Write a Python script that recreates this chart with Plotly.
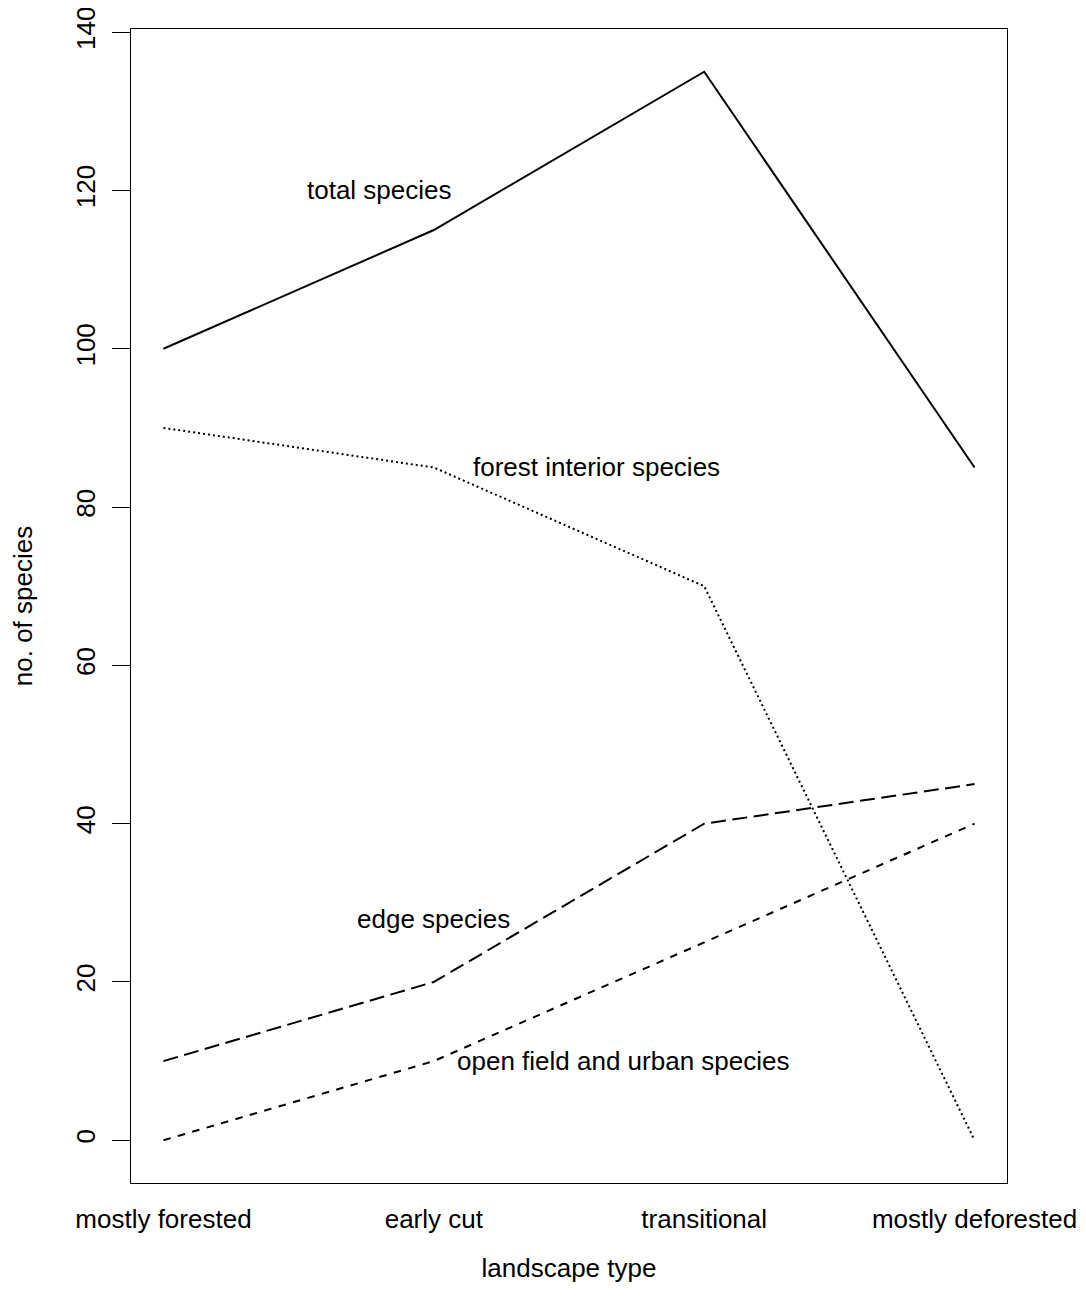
import plotly.graph_objects as go

categories = ["mostly forested", "early cut", "transitional", "mostly deforested"]
total_species = [100, 115, 135, 85]
forest_interior = [90, 85, 70, 0]
edge_species = [10, 20, 40, 45]
open_field_urban = [0, 10, 25, 40]
y_ticks = [0, 20, 40, 60, 80, 100, 120, 140]

label_text = ["total species", "forest interior species", "edge species",
              "open field and urban species"]
label_x = [0.80, 1.60, 1.00, 1.70]
label_y = [120, 85, 28, 10]

xpos = list(range(len(categories)))
FONT = "Liberation Sans, Arial, sans-serif"

fig = go.Figure()
series = [
    (total_species, "solid"),
    (forest_interior, "2px,3px"),
    (edge_species, "15px,6.5px"),
    (open_field_urban, "7.5px,7.5px"),
]
for vals, dash in series:
    fig.add_trace(go.Scatter(x=xpos, y=vals, mode="lines",
                             line=dict(color="black", width=2, dash=dash),
                             showlegend=False, hoverinfo="skip"))

for t, x, y in zip(label_text, label_x, label_y):
    fig.add_annotation(x=x, y=y, text=t, showarrow=False,
                       font=dict(family=FONT, size=26, color="black"),
                       xanchor="center", yanchor="middle")

# page body has an 8px default margin, so the figure is 8px smaller
fig.update_layout(
    width=1078, height=1306,
    margin=dict(l=123, r=79, t=21, b=131),
    paper_bgcolor="white", plot_bgcolor="white",
    font=dict(family=FONT, size=26, color="black"),
)
fig.update_xaxes(
    range=[-0.12, 3.12], tickvals=xpos, ticktext=categories,
    showgrid=False, zeroline=False, showline=True, mirror=True,
    linecolor="black", linewidth=1.2, ticks="", ticklabelstandoff=13,
    automargin=False, ticklabeloverflow="allow",
    title=dict(text="landscape type", standoff=25,
               font=dict(family=FONT, size=26)),
    tickfont=dict(family=FONT, size=26),
)
fig.update_yaxes(
    range=[-5.4, 140.4], tickvals=y_ticks,
    showgrid=False, zeroline=False, showline=True, mirror=True,
    linecolor="black", linewidth=1.2, ticks="outside", ticklen=18,
    tickwidth=1.2, tickcolor="black", tickangle=-90, ticklabelstandoff=7,
    automargin=False, ticklabeloverflow="allow",
    title=dict(text="no. of species", standoff=45,
               font=dict(family=FONT, size=26)),
    tickfont=dict(family=FONT, size=26),
)

fig.write_html("out.html")
